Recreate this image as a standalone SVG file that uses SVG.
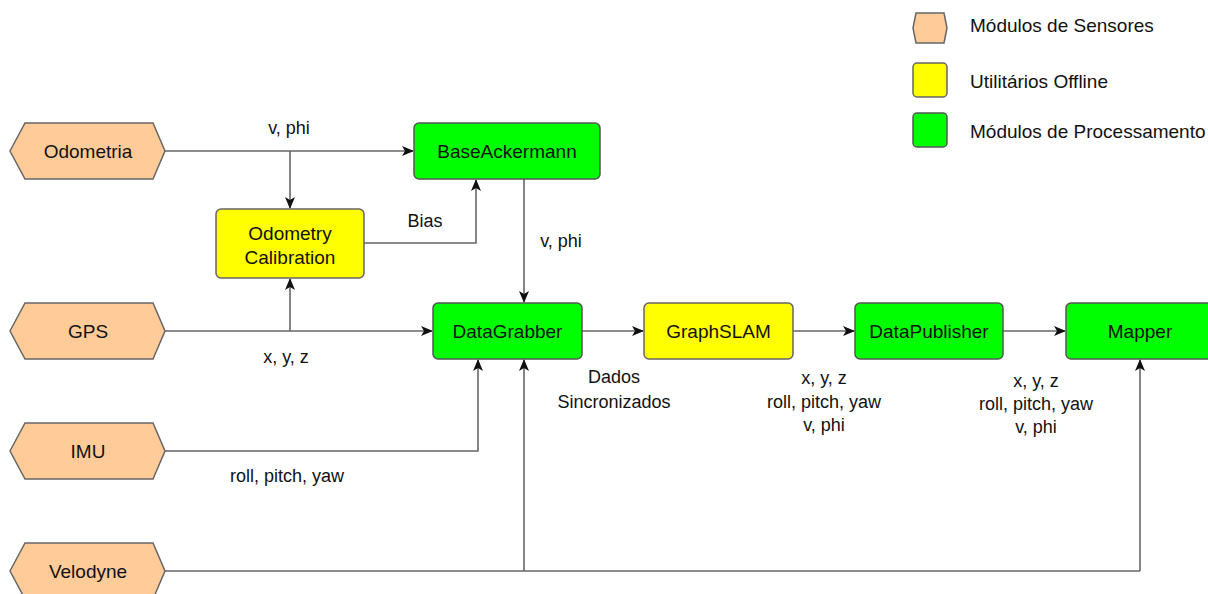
<svg xmlns="http://www.w3.org/2000/svg" width="1208" height="594" viewBox="0 0 1208 594">
<defs>
<style>
text{font-family:"Liberation Sans",Arial,sans-serif;font-size:18px;fill:#111;text-anchor:middle}
.n{font-size:19px}
.lg{text-anchor:start;font-size:19px}
.sensor{fill:#FFCC99;stroke:#666;stroke-width:1.5}
.util{fill:#FFFF00;stroke:#666;stroke-width:1.5}
.proc{fill:#00FF00;stroke:#555;stroke-width:1.5}
.c{fill:none;stroke:#666;stroke-width:1.6}
.a{marker-end:url(#arr)}
</style>
<marker id="arr" viewBox="0 0 12 10" refX="11" refY="5" markerWidth="12" markerHeight="10" markerUnits="userSpaceOnUse" orient="auto">
<path d="M0,0 L12,5 L0,10 L3,5 Z" fill="#111"/>
</marker>
</defs>

<g id="connectors">
<path class="c a" d="M165,151 H413"/>
<path class="c a" d="M290,151 V208"/>
<path class="c a" d="M364,243 H476 V180"/>
<path class="c a" d="M524,179 V302"/>
<path class="c a" d="M165,331 H432"/>
<path class="c a" d="M290,331 V279"/>
<path class="c a" d="M165,451 H478 V360"/>
<path class="c" d="M165,571 H1140"/>
<path class="c a" d="M524,571 V360"/>
<path class="c a" d="M1140,571 V360"/>
<path class="c a" d="M582,331 H643"/>
<path class="c a" d="M793,331 H854"/>
<path class="c a" d="M1003,331 H1065"/>
<text x="289" y="134">v, phi</text>
<text x="425" y="227">Bias</text>
<text x="561" y="247">v, phi</text>
<text x="286" y="363">x, y, z</text>
<text x="287" y="482">roll, pitch, yaw</text>
<text x="614" y="383">Dados</text>
<text x="614" y="408">Sincronizados</text>
<text x="824" y="384">x, y, z</text>
<text x="824" y="408">roll, pitch, yaw</text>
<text x="824" y="431">v, phi</text>
<text x="1036" y="387">x, y, z</text>
<text x="1036" y="410">roll, pitch, yaw</text>
<text x="1036" y="433">v, phi</text>
</g>

<g id="odometria">
<polygon class="sensor" points="10,151 25,123 153,123 165,151 153,179 25,179"/>
<text class="n" x="88" y="158">Odometria</text>
</g>
<g id="gps">
<polygon class="sensor" points="10,331 25,303 153,303 165,331 153,359 25,359"/>
<text class="n" x="88" y="338">GPS</text>
</g>
<g id="imu">
<polygon class="sensor" points="10,451 25,423 153,423 165,451 153,479 25,479"/>
<text class="n" x="88" y="458">IMU</text>
</g>
<g id="velodyne">
<polygon class="sensor" points="10,571 25,543 153,543 165,571 153,599 25,599"/>
<text class="n" x="88" y="578">Velodyne</text>
</g>

<g id="baseackermann">
<rect class="proc" x="414" y="123" width="186" height="56" rx="5"/>
<text class="n" x="507" y="158">BaseAckermann</text>
</g>
<g id="odometry-calibration">
<rect class="util" x="216" y="209" width="148" height="69" rx="5"/>
<text class="n" x="290" y="240">Odometry</text>
<text class="n" x="290" y="264">Calibration</text>
</g>
<g id="datagrabber">
<rect class="proc" x="433" y="303" width="149" height="56" rx="5"/>
<text class="n" x="507.5" y="338">DataGrabber</text>
</g>
<g id="graphslam">
<rect class="util" x="644" y="303" width="149" height="56" rx="5"/>
<text class="n" x="718.5" y="338">GraphSLAM</text>
</g>
<g id="datapublisher">
<rect class="proc" x="855" y="303" width="148" height="56" rx="5"/>
<text class="n" x="929" y="338">DataPublisher</text>
</g>
<g id="mapper">
<rect class="proc" x="1066" y="303" width="148" height="56" rx="5"/>
<text class="n" x="1140" y="338">Mapper</text>
</g>

<g id="legend">
<polygon class="sensor" points="913,28 916,13 944,13 947,28 944,43 916,43"/>
<text class="lg" x="970" y="32">Módulos de Sensores</text>
<rect class="util" x="913" y="63" width="34" height="34" rx="4"/>
<text class="lg" x="970" y="88">Utilitários Offline</text>
<rect class="proc" x="913" y="113" width="34" height="34" rx="4"/>
<text class="lg" x="970" y="138">Módulos de Processamento</text>
</g>
</svg>
